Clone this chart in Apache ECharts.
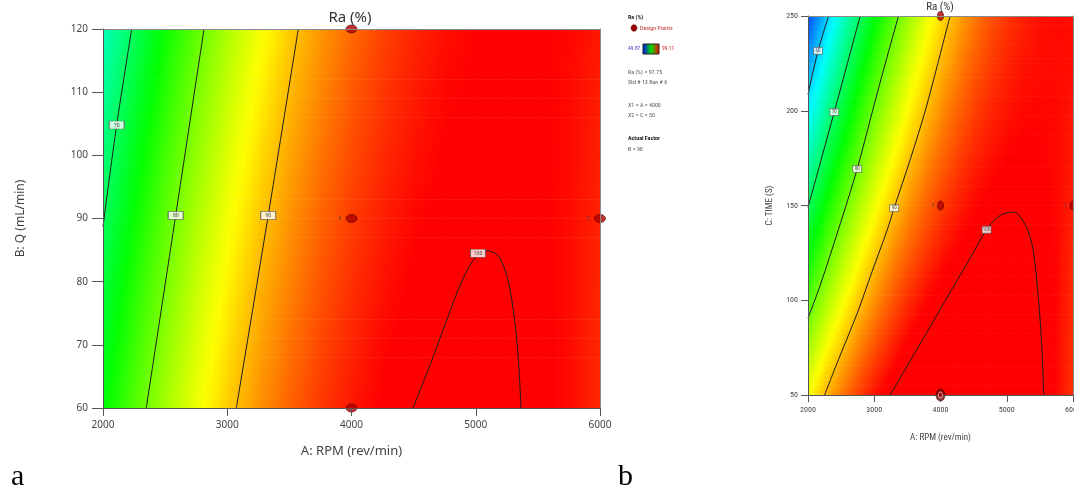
<!DOCTYPE html>
<html><head><meta charset="utf-8">
<script src="https://cdn.jsdelivr.net/npm/echarts@6/dist/echarts.min.js"></script>
<style>html,body{margin:0;padding:0;background:#fff}#c{width:1074px;height:486px}</style>
</head><body><div id="c"></div>
<script>
// ---------- data ----------
const rpmNodes = [2000,2250,2500,2750,3000,3250,3500,3750,4000,4250,4500,4750,5000,5250,5500,5750,6000];
const flowNodes = [60,70,80,90,100,110,120];
const timeNodes = [50,75,100,125,150,175,200,225,250];

// Chart a: Ra (%) read at each flow level (rows) across RPM nodes
const raQ60  = [74.2,78.5,82.5,86.0,89.2,92.0,94.4,96.4,98.0,99.3,100.1,100.6,100.7,100.4,99.7,98.6,97.2];
const raQ70  = [72.9,77.3,81.4,85.0,88.3,91.2,93.6,95.7,97.4,98.8,99.7,100.2,100.4,100.2,99.6,98.6,97.2];
const raQ80  = [71.6,76.1,80.2,84.0,87.3,90.3,92.8,95.0,96.8,98.2,99.3,99.9,100.1,100.0,99.5,98.6,97.3];
const raQ90  = [70.2,74.8,79.0,82.9,86.3,89.3,92.0,94.3,96.2,97.7,98.8,99.5,99.9,99.8,99.4,98.6,97.4];
const raQ100 = [68.7,73.4,77.7,81.6,85.2,88.3,91.1,93.5,95.5,97.1,98.3,99.2,99.6,99.7,99.4,98.7,97.6];
const raQ110 = [67.1,71.9,76.3,80.4,84.0,87.3,90.2,92.6,94.8,96.5,97.8,98.8,99.3,99.5,99.3,98.7,97.7];
const raQ120 = [65.4,70.3,74.9,79.0,82.8,86.2,89.2,91.8,94.0,95.9,97.3,98.4,99.1,99.4,99.3,98.8,98.0];

// Chart b: Ra (%) read at each time level (rows) across RPM nodes
const raT50  = [86.6,90.1,93.3,96.0,98.3,100.3,101.9,103.1,103.9,104.3,104.4,104.0,103.3,102.2,100.7,98.8,96.6];
const raT75  = [82.5,86.3,89.6,92.7,95.3,97.5,99.4,100.9,102.0,102.7,103.0,102.9,102.5,101.6,100.4,98.8,96.8];
const raT100 = [78.3,82.4,86.0,89.3,92.2,94.8,96.9,98.6,100.0,101.0,101.6,101.8,101.6,101.1,100.1,98.8,97.1];
const raT125 = [74.2,78.5,82.4,86.0,89.2,92.0,94.4,96.4,98.0,99.3,100.2,100.7,100.8,100.5,99.8,98.8,97.3];
const raT150 = [70.0,74.6,78.8,82.7,86.1,89.2,91.9,94.2,96.1,97.6,98.8,99.5,99.9,99.9,99.5,98.8,97.6];
const raT175 = [65.8,70.7,75.2,79.3,83.1,86.4,89.4,92.0,94.2,96.0,97.4,98.4,99.1,99.4,99.2,98.7,97.9];
const raT200 = [61.7,66.8,71.6,76.0,80.0,83.6,86.9,89.7,92.2,94.3,96.0,97.3,98.2,98.8,98.9,98.7,98.1];
const raT225 = [57.5,63.0,68.0,72.7,77.0,80.9,84.4,87.5,90.2,92.6,94.6,96.2,97.4,98.2,98.6,98.7,98.4];
const raT250 = [53.4,59.1,64.4,69.4,73.9,78.1,81.9,85.3,88.3,90.9,93.2,95.1,96.5,97.6,98.4,98.7,98.6];

// contour lines (RPM, second factor)
const contourA70  = [[2000,88.7],[2110,104.8],[2231,120]];
const contourA80  = [[2348,60],[2585,90.5],[2813,120]];
const contourA90  = [[3073,60],[3330,90.5],[3572,120]];
const contourA100 = [[4495,60],[4638,67.1],[4766,73.9],[4893,80.3],[5004,84.0],[5099,84.9],[5185,84.0],[5259,80.3],[5313,73.9],[5345,67.1],[5364,60]];
const contourB60  = [[2000,208.6],[2151,231.6],[2311,250]];
const contourB70  = [[2000,149],[2205,175],[2396,199.3],[2595,225],[2788,250]];
const contourB80  = [[2000,90.5],[2185,108],[2458,137.2],[2742,169.3],[3050,210],[3365,250]];
const contourB90  = [[2250,50],[2475,70],[2745,93.3],[2966,115],[3195,137],[3300,148.6],[3550,175],[3770,200],[3960,225],[4145,250]];
const contourB100 = [[3240,50],[3660,75],[4075,100],[4445,122],[4695,137.2],[4900,144.8],[5107,146.5],[5290,139],[5398,126.7],[5480,100],[5530,75],[5558,50]];

const contourLabelsA = [[2110,104.8,'70'],[2585,90.5,'80'],[3330,90.5,'90'],[5018,84.5,'100']];
const contourLabelsB = [[2151,231.6,'60'],[2396,199.3,'70'],[2742,169.3,'80'],[3300,148.6,'90'],[4695,137.2,'100']];

const designPointsA = [[4000,120,''],[4000,90,'6'],[4000,60,''],[6000,90,'2']];
const designPointsB = [[4000,250,''],[4000,150,'4'],[6000,150,'2']];
const selectedPointB = [[4000,50]];

const scaleStops = [49.87, 62.18, 74.49, 86.8, 99.11];
const scaleColors = [[0,0,255],[0,255,255],[0,255,0],[255,255,0],[255,0,0]];

// ---------- helpers ----------
const FONT = "'Noto Sans','Open Sans',sans-serif";
const NARROW = "'Liberation Sans Narrow','Roboto Condensed','Liberation Sans',sans-serif";

function colorOf(v){
  if (v <= scaleStops[0]) return 'rgb(' + scaleColors[0].join(',') + ')';
  for (let k = 1; k < scaleStops.length; k++) {
    if (v <= scaleStops[k]) {
      const t = (v - scaleStops[k-1]) / (scaleStops[k] - scaleStops[k-1]);
      const c0 = scaleColors[k-1], c1 = scaleColors[k];
      return 'rgb(' + [0,1,2].map(i => Math.round(c0[i] + (c1[i]-c0[i])*t)).join(',') + ')';
    }
  }
  return 'rgb(' + scaleColors[scaleColors.length-1].join(',') + ')';
}
function buildCells(xs, ys, rows){
  const out = [];
  for (let j = 0; j < ys.length-1; j++)
    for (let i = 0; i < xs.length-1; i++)
      out.push([xs[i], ys[j], xs[i+1], ys[j+1], rows[j][i], rows[j][i+1], rows[j+1][i], rows[j+1][i+1]]);
  return out;
}
function renderHeat(params, api){
  const a = api.coord([api.value(0), api.value(1)]);
  const b = api.coord([api.value(2), api.value(3)]);
  const v00 = api.value(4), v10 = api.value(5), v01 = api.value(6), v11 = api.value(7);
  const N = 10, children = [];
  for (let s = 0; s < N; s++) {
    const tm = (s + 0.5) / N;
    const yb = a[1] + (b[1]-a[1]) * s / N;
    const yt = a[1] + (b[1]-a[1]) * (s+1) / N;
    const vl = v00 + (v01 - v00) * tm, vr = v10 + (v11 - v10) * tm;
    const stops = [];
    for (let k = 0; k <= 4; k++) stops.push({offset: k/4, color: colorOf(vl + (vr - vl) * k / 4)});
    children.push({type:'rect', silent:true,
      shape:{x:a[0], y:yt-0.3, width:(b[0]-a[0])+0.7, height:(yb-yt)+0.6},
      style:{fill:new echarts.graphic.LinearGradient(0,0,1,0,stops)}});
  }
  return {type:'group', children};
}
function contourSeries(data, xi, yi){
  return {type:'line', xAxisIndex:xi, yAxisIndex:yi, data, showSymbol:false, smooth:0.3,
    lineStyle:{color:'#1c1c1c', width:1}, z:3, silent:true, animation:false};
}
function contourLabelSeries(data, xi, yi, size, fs){
  return {type:'scatter', xAxisIndex:xi, yAxisIndex:yi, data, symbol:'rect', symbolSize:size, z:4, silent:true,
    itemStyle:{color:'#ffffff', borderColor:'#555', borderWidth:0.8},
    label:{show:true, position:'inside', formatter:p=>p.value[2], fontSize:fs, color:'#333', fontFamily:NARROW}};
}
const plain = v => String(v);

const chart = echarts.init(document.getElementById('c'), null, {renderer:'canvas'});

function axisCommon(extra){
  return Object.assign({type:'value', splitLine:{show:false}, z:6,
    axisLine:{show:true, lineStyle:{color:'#555', width:1}},
    axisTick:{show:true, inside:false, lineStyle:{color:'#555'}}}, extra);
}
function borderAxis(gi, pos, min, max){
  return {type:'value', gridIndex:gi, position:pos, min, max, z:6,
    axisLine:{show:true, onZero:false, lineStyle:{color:'#8a8a8a', width:1}},
    axisTick:{show:false}, axisLabel:{show:false}, splitLine:{show:false}};
}

const option = {
  animation:false,
  backgroundColor:'#ffffff',
  grid:[
    {left:103, right:474, top:29, bottom:78, containLabel:false, outerBoundsMode:'none'},
    {left:808, right:1, top:16, bottom:91, containLabel:false, outerBoundsMode:'none'}
  ],
  xAxis:[
    axisCommon({gridIndex:0, min:2000, max:6000, interval:1000,
      axisTick:{show:true, length:8, lineStyle:{color:'#555'}},
      axisLabel:{color:'#444', fontSize:10, margin:12, fontFamily:FONT, formatter:plain},
      name:'A: RPM (rev/min)', nameLocation:'middle', nameGap:37,
      nameTextStyle:{fontSize:13, color:'#444', fontFamily:FONT}}),
    axisCommon({gridIndex:1, min:2000, max:6000, interval:1000,
      axisTick:{show:true, length:7, lineStyle:{color:'#555'}},
      axisLabel:{color:'#444', fontSize:8, margin:11, fontFamily:NARROW, formatter:plain},
      name:'A: RPM (rev/min)', nameLocation:'middle', nameGap:38,
      nameTextStyle:{fontSize:9, color:'#444', fontFamily:NARROW}}),
    borderAxis(0, 'top', 2000, 6000),
    borderAxis(1, 'top', 2000, 6000)
  ],
  yAxis:[
    axisCommon({gridIndex:0, min:60, max:120, interval:10,
      axisTick:{show:true, length:11, lineStyle:{color:'#555'}},
      axisLabel:{color:'#444', fontSize:10, margin:15, fontFamily:FONT, formatter:plain},
      name:'B: Q (mL/min)', nameLocation:'middle', nameGap:76,
      nameTextStyle:{fontSize:12, color:'#444', fontFamily:FONT}}),
    axisCommon({gridIndex:1, min:50, max:250, interval:50,
      axisTick:{show:true, length:7, lineStyle:{color:'#555'}},
      axisLabel:{color:'#444', fontSize:8, margin:10, fontFamily:NARROW, formatter:plain},
      name:'C: TIME (S)', nameLocation:'middle', nameGap:34,
      nameTextStyle:{fontSize:9, color:'#444', fontFamily:NARROW}}),
    borderAxis(0, 'right', 60, 120),
    borderAxis(1, 'right', 50, 250)
  ],
  series:[
    {type:'custom', xAxisIndex:0, yAxisIndex:0, renderItem:renderHeat, clip:true, z:1, silent:true,
      encode:{x:[0,2], y:[1,3]},
      data:buildCells(rpmNodes, flowNodes, [raQ60,raQ70,raQ80,raQ90,raQ100,raQ110,raQ120])},
    {type:'custom', xAxisIndex:1, yAxisIndex:1, renderItem:renderHeat, clip:true, z:1, silent:true,
      encode:{x:[0,2], y:[1,3]},
      data:buildCells(rpmNodes, timeNodes, [raT50,raT75,raT100,raT125,raT150,raT175,raT200,raT225,raT250])},
    contourSeries(contourA70,0,0), contourSeries(contourA80,0,0), contourSeries(contourA90,0,0), contourSeries(contourA100,0,0),
    contourSeries(contourB60,1,1), contourSeries(contourB70,1,1), contourSeries(contourB80,1,1), contourSeries(contourB90,1,1), contourSeries(contourB100,1,1),
    contourLabelSeries(contourLabelsA,0,0,[15,8],6),
    contourLabelSeries(contourLabelsB,1,1,[9,7],5),
    {type:'scatter', xAxisIndex:0, yAxisIndex:0, data:designPointsA, symbol:'circle', symbolSize:[11,8], clip:false, z:5,
      itemStyle:{color:'#b00000', borderColor:'#5a0000', borderWidth:0.8},
      label:{show:true, position:'left', distance:4, formatter:p=>p.value[2], fontSize:6, color:'#444', fontFamily:NARROW}},
    {type:'scatter', xAxisIndex:1, yAxisIndex:1, data:designPointsB, symbol:'circle', symbolSize:[6,9], clip:false, z:5,
      itemStyle:{color:'#b00000', borderColor:'#5a0000', borderWidth:0.8},
      label:{show:true, position:'left', distance:3, formatter:p=>p.value[2], fontSize:5, color:'#444', fontFamily:NARROW}},
    {type:'scatter', xAxisIndex:1, yAxisIndex:1, data:selectedPointB, symbol:'circle', symbolSize:[9,12], clip:false, z:5,
      itemStyle:{color:'#7a0000', borderColor:'#3a0000', borderWidth:0.8}},
    {type:'scatter', xAxisIndex:1, yAxisIndex:1, data:selectedPointB, symbol:'circle', symbolSize:[4,6], clip:false, z:6,
      itemStyle:{color:'#a00000', borderColor:'#f2d0d0', borderWidth:1}}
  ],
  graphic:[
    {type:'text', x:350, y:18, z:10, style:{text:'Ra (%)', fontSize:15, fill:'#333', fontFamily:FONT, align:'center', verticalAlign:'middle'}},
    {type:'text', x:940, y:7, z:10, style:{text:'Ra (%)', fontSize:11, fill:'#333', fontFamily:NARROW, align:'center', verticalAlign:'middle'}},
    {type:'text', x:11, y:492, z:10, style:{text:'a', fontSize:30, fill:'#000', fontFamily:"'Liberation Serif','DejaVu Serif',serif", align:'left', verticalAlign:'bottom'}},
    {type:'text', x:618, y:492, z:10, style:{text:'b', fontSize:30, fill:'#000', fontFamily:"'Liberation Serif','DejaVu Serif',serif", align:'left', verticalAlign:'bottom'}},
    // legend block
    {type:'text', x:628, y:17, style:{text:'Ra (%)', fontSize:6, fontWeight:'bold', fill:'#222', fontFamily:NARROW, verticalAlign:'middle'}},
    {type:'ellipse', shape:{cx:634, cy:28, rx:3, ry:3.2}, style:{fill:'#a00000', stroke:'#5a0000', lineWidth:0.6}},
    {type:'text', x:640, y:28, style:{text:'Design Points', fontSize:6, fill:'#c03030', fontFamily:NARROW, verticalAlign:'middle'}},
    {type:'text', x:628, y:49, style:{text:'49.87', fontSize:5.5, fill:'#3a3acc', fontFamily:NARROW, verticalAlign:'middle'}},
    {type:'rect', shape:{x:643, y:44, width:16, height:10}, style:{stroke:'#222', lineWidth:1,
      fill:new echarts.graphic.LinearGradient(0,0,1,0,[{offset:0,color:'#0000ff'},{offset:0.5,color:'#00dd00'},{offset:1,color:'#ff0000'}])}},
    {type:'text', x:662, y:49, style:{text:'99.11', fontSize:5.5, fill:'#cc2222', fontFamily:NARROW, verticalAlign:'middle'}},
    {type:'text', x:628, y:72, style:{text:'Ra (%) = 97.75', fontSize:6, fill:'#555', fontFamily:NARROW, verticalAlign:'middle'}},
    {type:'text', x:628, y:82, style:{text:'Std # 13 Run # 6', fontSize:6, fill:'#555', fontFamily:NARROW, verticalAlign:'middle'}},
    {type:'text', x:628, y:105, style:{text:'X1 = A = 4000', fontSize:6, fill:'#555', fontFamily:NARROW, verticalAlign:'middle'}},
    {type:'text', x:628, y:115, style:{text:'X2 = C = 50', fontSize:6, fill:'#555', fontFamily:NARROW, verticalAlign:'middle'}},
    {type:'text', x:628, y:138, style:{text:'Actual Factor', fontSize:6, fontWeight:'bold', fill:'#222', fontFamily:NARROW, verticalAlign:'middle'}},
    {type:'text', x:628, y:149, style:{text:'B = 90', fontSize:6, fill:'#555', fontFamily:NARROW, verticalAlign:'middle'}}
  ]
};
chart.setOption(option);
</script>
</body></html>
